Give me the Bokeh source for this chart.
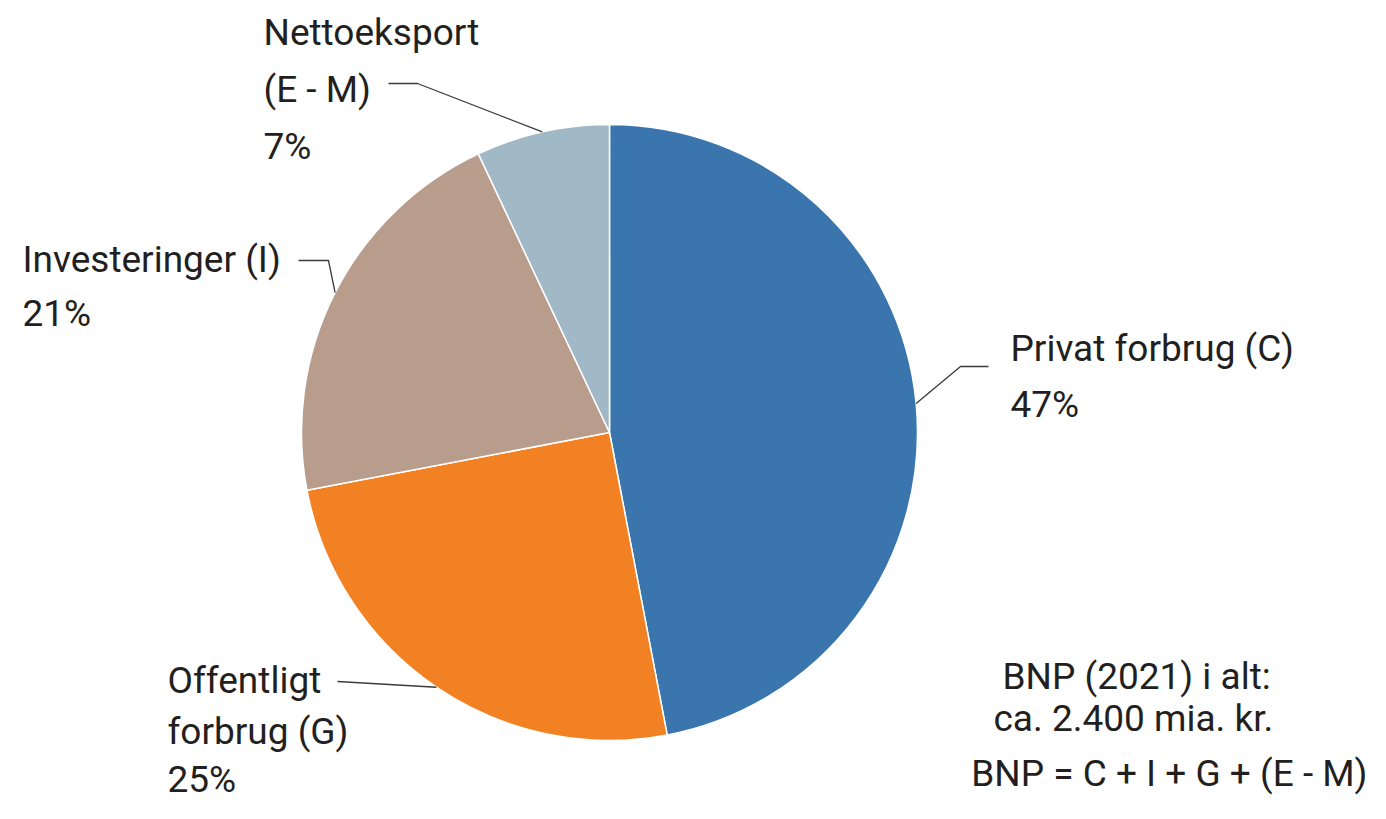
import math
from bokeh.plotting import figure
from bokeh.models import Range1d
from bokeh.core.properties import value
from bokeh.embed import file_html
from bokeh.resources import INLINE

# ---- data ----
categories = ["Privat forbrug (C)", "Offentligt forbrug (G)", "Investeringer (I)", "Nettoeksport (E - M)"]
shares = [47, 25, 21, 7]
colors = ["#3a76ad", "#f28124", "#b89c8c", "#a1b8c6"]
label_lines = [
    ["Privat forbrug (C)", "47%"],
    ["Offentligt", "forbrug (G)", "25%"],
    ["Investeringer (I)", "21%"],
    ["Nettoeksport", "(E - M)", "7%"],
]
note_lines = ["BNP (2021) i alt:", "ca. 2.400 mia. kr.", "BNP = C + I + G + (E - M)"]

# ---- layout (pixel coords of the picture, y measured downward) ----
W, H = 1370, 803
def Y(py):
    return H - py

cx, cy, R = 609, Y(432), 308
FONT = "Roboto"
FS = "37px"
TXT = "#231f20"
OFF = 14  # renderer puts the alphabetic anchor slightly above the glyph baseline

label_pos = [  # (x, [baselines in px])
    (1010, [362, 418]),
    (167, [694, 745, 793]),
    (22, [273, 327]),
    (263, [46, 103, 160]),
]
elbows = [  # elbow / end point of the leader line (px)
    [(960, 366), (988, 366)],
    [(337, 681)],
    [(328, 260), (298, 260)],
    [(417, 83), (388, 83)],
]
note_pos = [(1002, 690, "left"), (993, 732, "left"), (1367, 787, "right")]

p = figure(width=W, height=H, x_range=Range1d(0, W), y_range=Range1d(0, H),
           output_backend="svg", toolbar_location=None, min_border=0)
p.axis.visible = False
p.grid.visible = False
p.outline_line_color = None
p.background_fill_color = "white"
p.border_fill_color = "white"

total = float(sum(shares))
start = math.pi / 2
starts, ends, mids = [], [], []
for s in shares:
    sweep = 2 * math.pi * s / total
    end = start - sweep
    starts.append(start)
    ends.append(end)
    mids.append((start + end) / 2)
    start = end

p.wedge(x=[cx] * len(shares), y=[cy] * len(shares), radius=R,
        start_angle=starts, end_angle=ends, direction="clock",
        fill_color=colors, line_color="white", line_width=1.5)

# leader lines
xs, ys = [], []
for m, pts in zip(mids, elbows):
    ex = cx + R * math.cos(m)
    ey = cy + R * math.sin(m)
    xs.append([ex] + [q[0] for q in pts])
    ys.append([ey] + [Y(q[1]) for q in pts])
p.multi_line(xs=xs, ys=ys, line_color="#3a3a3a", line_width=1.3)

# labels
tx, ty, tt = [], [], []
for lines, (x0, bls) in zip(label_lines, label_pos):
    for t, b in zip(lines, bls):
        tx.append(x0); ty.append(Y(b - OFF)); tt.append(t)
p.text(x=tx, y=ty, text=tt, text_font=value(FONT), text_font_size=FS,
       text_color=TXT, text_baseline="alphabetic", text_align="left")

for t, (x0, b, al) in zip(note_lines, note_pos):
    p.text(x=[x0], y=[Y(b - OFF)], text=[t], text_font=value(FONT), text_font_size=FS,
           text_color=TXT, text_baseline="alphabetic", text_align=al)

open("out.html", "w").write(file_html(p, INLINE))
